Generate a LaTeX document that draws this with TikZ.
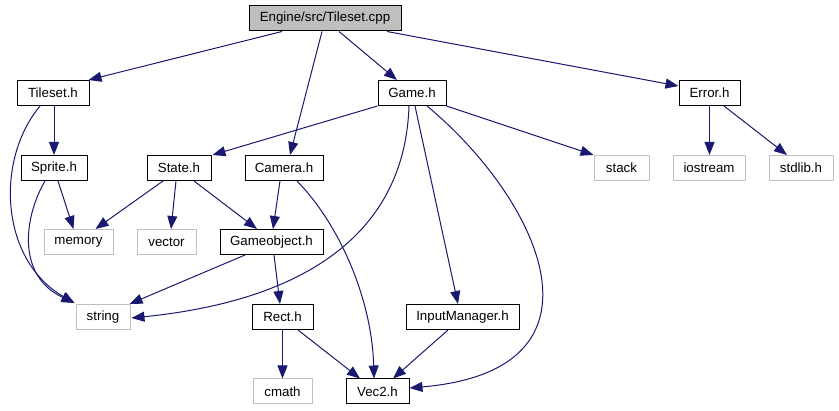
\documentclass[tikz,border=0pt]{standalone}
\usepackage{fontspec}
\setmainfont{Liberation Sans}
\usetikzlibrary{arrows.meta}
\definecolor{edgeblue}{HTML}{191970}
\definecolor{sysgray}{HTML}{BFBFBF}
\begin{document}
\begin{tikzpicture}[x=1pt,y=-1pt,
  box/.style={draw=black, line width=1pt, minimum height=25pt, inner sep=0pt, font=\fontsize{13.3}{15}\selectfont},
  sysbox/.style={box, draw=sysgray},
  rootbox/.style={box, fill=sysgray},
  edge/.style={draw=edgeblue, line width=1pt, -{Triangle[length=13pt,width=10pt]}}]
\useasboundingbox (0,0) rectangle (839,411);
% nodes
\node[rootbox, minimum width=152pt] (cpp) at (325,18.5) {Engine/src/Tileset.cpp};
\node[box, minimum width=72pt] (tileh) at (53,93) {Tileset.h};
\node[box, minimum width=68pt] (gameh) at (412,93) {Game.h};
\node[box, minimum width=61pt] (errorh) at (709.5,93) {Error.h};
\node[box, minimum width=66pt] (spriteh) at (54,168) {Sprite.h};
\node[box, minimum width=64pt] (stateh) at (179,168) {State.h};
\node[box, minimum width=78pt] (camerah) at (284,168) {Camera.h};
\node[sysbox, minimum width=55pt] (stack) at (621.5,168) {stack};
\node[sysbox, minimum width=72pt] (iostream) at (709,168) {iostream};
\node[sysbox, minimum width=64pt] (stdlib) at (801,168) {stdlib.h};
\node[sysbox, minimum width=69pt] (memory) at (78.5,242) {memory};
\node[sysbox, minimum width=59pt] (vector) at (166.5,242) {vector};
\node[box, minimum width=103pt] (gameobj) at (271.5,242) {Gameobject.h};
\node[sysbox, minimum width=54pt] (string) at (103,317) {string};
\node[box, minimum width=61pt] (recth) at (282.5,317) {Rect.h};
\node[box, minimum width=113pt] (inputh) at (462.5,317) {InputManager.h};
\node[sysbox, minimum width=59pt] (cmath) at (282.5,391.5) {cmath};
\node[box, minimum width=63pt] (vec2) at (377.5,391.5) {Vec2.h};
% edges
\draw[edge] ([xshift=-43pt]cpp.south) -- ([xshift=-1pt]tileh.north east);
\draw[edge] ([xshift=-3pt]cpp.south) -- ([xshift=6pt]camerah.north);
\draw[edge] ([xshift=14pt]cpp.south) -- ([xshift=-15pt]gameh.north);
\draw[edge] ([xshift=62pt]cpp.south) -- ([yshift=7pt]errorh.west);
\draw[edge] ([xshift=1pt]tileh.south) -- (spriteh.north);
\draw[edge] ([xshift=-13pt]tileh.south) .. controls (-5,160) and (0,260) .. ([xshift=-1pt,yshift=1pt]string.north west);
\draw[edge] ([xshift=4pt]spriteh.south) -- ([xshift=-5pt]memory.north);
\draw[edge] ([xshift=-9pt]spriteh.south) .. controls (25,215) and (15,275) .. ([xshift=-1pt,yshift=1pt]string.north west);
\draw[edge] ([xshift=-16pt]stateh.south) -- ([xshift=17pt]memory.north);
\draw[edge] ([xshift=-3pt]stateh.south) -- ([xshift=4.5pt]vector.north);
\draw[edge] ([xshift=15pt]stateh.south) -- ([xshift=-14.5pt]gameobj.north);
\draw[edge] ([xshift=-4pt]camerah.south) -- ([xshift=1.5pt]gameobj.north);
\draw[edge] ([xshift=13pt]camerah.south) .. controls (340,225) and (372,300) .. ([xshift=-3.5pt]vec2.north);
\draw[edge] (gameh.south west) -- ([xshift=1pt]stateh.north east);
\draw[edge] ([xshift=-3pt]gameh.south) .. controls (405,230) and (310,300) .. ([xshift=1pt,yshift=-1pt]string.east);
\draw[edge] ([xshift=3pt]gameh.south) -- ([xshift=-4.5pt]inputh.north);
\draw[edge] ([xshift=15pt]gameh.south) .. controls (540,200) and (620,370) .. ([yshift=3.5pt]vec2.east);
\draw[edge] (gameh.south east) -- (stack.north west);
\draw[edge] (errorh.south) -- ([xshift=0.5pt]iostream.north);
\draw[edge] ([xshift=14.5pt]errorh.south) -- ([xshift=-14pt]stdlib.north);
\draw[edge] ([xshift=-26.5pt]gameobj.south) -- ([xshift=-1pt]string.north east);
\draw[edge] ([xshift=2.5pt]gameobj.south) -- ([xshift=-2.5pt]recth.north);
\draw[edge] (recth.south) -- (cmath.north);
\draw[edge] ([xshift=15.5pt]recth.south) -- ([xshift=-17.5pt]vec2.north);
\draw[edge] ([xshift=-14.5pt]inputh.south) -- ([xshift=15.5pt]vec2.north);
\end{tikzpicture}
\end{document}
